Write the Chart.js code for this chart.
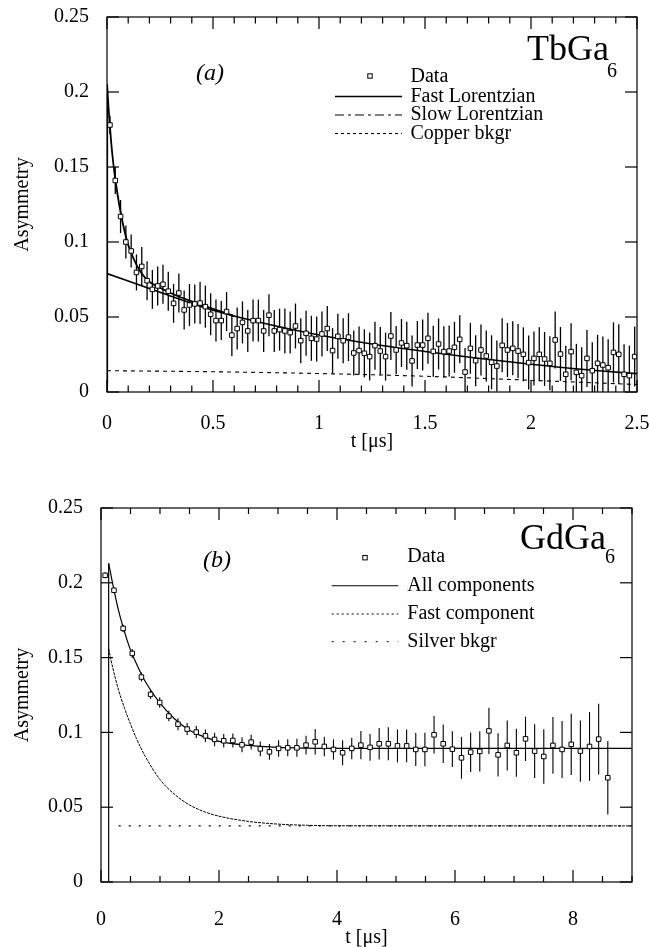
<!DOCTYPE html>
<html><head><meta charset="utf-8">
<script src="https://cdn.jsdelivr.net/npm/chart.js@4.4.0/dist/chart.umd.min.js"></script>
<style>
html,body{margin:0;padding:0;background:#fff;}
#wrap{position:relative;width:649px;height:947px;overflow:hidden;}
.box{position:absolute;left:0;width:649px;}
canvas{display:block;}
</style></head><body>
<div id="wrap">
<div class="box" style="top:0;height:470px"><canvas id="ca" width="649" height="470"></canvas></div>
<div class="box" style="top:470px;height:477px"><canvas id="cb" width="649" height="477"></canvas></div>
</div>
<script>
// ---------- Panel (a) : TbGa6 ----------
const tA = [0.014,0.039,0.064,0.089,0.114,0.139,0.164,0.189,0.214,0.239,
0.264,0.289,0.314,0.339,0.364,0.389,0.414,0.439,0.464,0.489,
0.514,0.539,0.564,0.589,0.614,0.639,0.664,0.689,0.714,0.739,
0.764,0.789,0.814,0.839,0.864,0.889,0.914,0.939,0.964,0.989,
1.014,1.039,1.064,1.089,1.114,1.139,1.164,1.189,1.214,1.239,
1.264,1.289,1.314,1.339,1.364,1.389,1.414,1.439,1.464,1.489,
1.514,1.539,1.564,1.589,1.614,1.639,1.664,1.689,1.714,1.739,
1.764,1.789,1.814,1.839,1.864,1.889,1.914,1.939,1.964,1.989,
2.014,2.039,2.064,2.089,2.114,2.139,2.164,2.189,2.214,2.239,
2.264,2.289,2.314,2.339,2.364,2.389,2.414,2.439,2.464,2.489];
const asymA = [0.178,0.141,0.117,0.100,0.094,0.0797,0.0837,0.0742,0.0684,0.0707,
0.0718,0.0672,0.0591,0.066,0.0547,0.058,0.0587,0.0593,0.0569,0.0518,
0.0476,0.0476,0.0536,0.0379,0.0423,0.0464,0.0407,0.0476,0.0476,0.0407,
0.0512,0.0407,0.0416,0.0407,0.0396,0.044,0.0342,0.0391,0.0358,0.0353,
0.0387,0.0423,0.0276,0.0371,0.0342,0.0366,0.026,0.0276,0.0258,0.0236,
0.0309,0.0273,0.0236,0.0373,0.028,0.0327,0.0309,0.0207,0.0313,0.0313,
0.0358,0.0271,0.032,0.0269,0.0273,0.0298,0.0351,0.0133,0.0291,0.0209,
0.028,0.024,0.0198,0.0173,0.0311,0.028,0.0291,0.0273,0.0251,0.0196,
0.0224,0.0251,0.022,0.0191,0.0347,0.0253,0.0118,0.0269,0.0131,0.0109,
0.0224,0.0142,0.0191,0.018,0.0162,0.0264,0.0251,0.0118,0.0109,0.0236];
const errA = [0.006,0.009,0.011,0.011,0.011,0.012,0.013,0.013,0.013,0.013,
0.013,0.013,0.013,0.013,0.013,0.014,0.013,0.014,0.014,0.014,
0.014,0.013,0.013,0.014,0.014,0.014,0.014,0.014,0.014,0.014,
0.014,0.014,0.014,0.015,0.014,0.015,0.015,0.015,0.015,0.015,
0.015,0.015,0.015,0.015,0.015,0.016,0.015,0.016,0.016,0.016,
0.016,0.016,0.016,0.016,0.016,0.016,0.016,0.017,0.016,0.017,
0.017,0.017,0.017,0.017,0.017,0.017,0.016,0.016,0.017,0.017,
0.017,0.017,0.018,0.017,0.018,0.018,0.018,0.018,0.018,0.018,
0.018,0.018,0.018,0.018,0.019,0.018,0.019,0.019,0.019,0.019,
0.019,0.019,0.019,0.019,0.019,0.02,0.02,0.02,0.02,0.02];
const fastA_t = [0,0.01,0.02,0.03,0.04,0.06,0.08,0.10,0.125,0.15,0.175,0.2,0.25,0.3,0.35,0.4,0.5,0.6];
const fastA_v = [0.205,0.184,0.166,0.152,0.141,0.123,0.109,0.098,0.089,0.082,0.077,0.0735,0.0695,0.066,0.063,0.0605,0.0555,0.0506];
const slowA_t = [0,0.25,0.5,0.75,1,1.25,1.5,1.75,2,2.25,2.5];
const slowA_v = [0.079,0.0665,0.0545,0.0455,0.038,0.032,0.027,0.0225,0.0185,0.015,0.0122];
const copA_t = [0,0.5,1,1.5,2,2.5];
const copA_v = [0.0142,0.0135,0.0123,0.0105,0.0078,0.0050];
const xTicksA = ['0','0.5','1','1.5','2','2.5'];

// ---------- Panel (b) : GdGa6 ----------
const tB = [0.07,0.22,0.375,0.53,0.685,0.84,0.995,1.15,1.305,1.46,
1.615,1.77,1.925,2.08,2.235,2.39,2.545,2.7,2.855,3.01,
3.165,3.32,3.475,3.63,3.785,3.94,4.095,4.25,4.405,4.56,
4.715,4.87,5.025,5.18,5.335,5.49,5.645,5.8,5.955,6.11,
6.265,6.42,6.575,6.73,6.885,7.04,7.195,7.35,7.505,7.66,
7.815,7.97,8.125,8.28,8.435,8.59];
const asymB = [0.205,0.195,0.1695,0.1528,0.137,0.1254,0.120,0.1109,0.1055,0.1022,
0.1002,0.0977,0.0953,0.0944,0.0946,0.0917,0.0935,0.089,0.087,0.0893,
0.0897,0.0897,0.0915,0.0937,0.0906,0.0886,0.0864,0.0893,0.0915,0.0900,
0.0924,0.0924,0.091,0.091,0.0886,0.0886,0.0984,0.0924,0.0888,0.083,
0.0868,0.0873,0.101,0.085,0.0913,0.0864,0.0957,0.0875,0.0839,0.0913,
0.0886,0.092,0.0875,0.0906,0.0955,0.0697];
const errB = [0.002,0.002,0.0025,0.003,0.003,0.003,0.0035,0.0035,0.004,0.004,
0.004,0.0042,0.0045,0.0045,0.0047,0.005,0.005,0.005,0.0052,0.0055,
0.0057,0.006,0.0062,0.0085,0.0065,0.0068,0.0084,0.0072,0.0095,0.009,
0.0105,0.011,0.011,0.011,0.011,0.0112,0.0125,0.0128,0.012,0.014,
0.0132,0.0135,0.0155,0.0145,0.0167,0.016,0.0148,0.018,0.0182,0.019,
0.019,0.0205,0.0205,0.023,0.0237,0.0245];
const allB_t = [0.13,0.2,0.3,0.4,0.5,0.6,0.75,1,1.25,1.5,1.75,2,2.5,3,3.5,4,9];
const allB_v = [0.213,0.199,0.181,0.167,0.155,0.146,0.134,0.1195,0.109,0.1015,0.097,0.094,0.0913,0.09,0.0895,0.0893,0.0893];
const fastB_t = [0.13,0.2,0.3,0.4,0.5,0.6,0.75,1,1.25,1.5,1.75,2,2.5,3,3.5,4,9];
const fastB_v = [0.156,0.143,0.128,0.116,0.1055,0.096,0.084,0.0685,0.0585,0.0515,0.047,0.044,0.0405,0.0387,0.0379,0.0376,0.0375];
const silB_t = [0.3,9];
const silB_v = [0.0375,0.0375];
const xTicksB = ['0','2','4','6','8'];
const yTicks = ['0','0.05','0.1','0.15','0.2','0.25'];

// ---------- helpers ----------
const SERIF = "'Liberation Serif','Times New Roman',serif";
const pts = (t, v) => t.map((x, i) => ({x: x, y: v[i]}));
const fmt = v => String(Math.round(v * 100) / 100);

function makePlugin(cfg) {
  function seg(ctx, x1, y1, x2, y2) { ctx.beginPath(); ctx.moveTo(x1, y1); ctx.lineTo(x2, y2); ctx.stroke(); }
  return {
    id: 'decor',
    beforeDatasetsDraw(chart) {
      const {ctx, chartArea: a, scales: {x, y}} = chart;
      ctx.save();
      ctx.beginPath(); ctx.rect(a.left, a.top, a.right - a.left, a.bottom - a.top); ctx.clip();
      ctx.strokeStyle = '#000'; ctx.lineWidth = cfg.errWidth;
      cfg.errT.forEach((t, i) => {
        const px = x.getPixelForValue(t);
        seg(ctx, px, y.getPixelForValue(cfg.errV[i] - cfg.errE[i]), px, y.getPixelForValue(cfg.errV[i] + cfg.errE[i]));
      });
      ctx.restore();
    },
    afterDraw(chart) {
      const {ctx, chartArea: a, scales: {x, y}} = chart;
      ctx.save();
      ctx.strokeStyle = '#000'; ctx.lineWidth = 1.2; ctx.setLineDash([]);
      ctx.strokeRect(a.left, a.top, a.right - a.left, a.bottom - a.top);
      // x ticks (inward, top & bottom)
      const nx = Math.round((x.max - x.min) / cfg.xMinor);
      for (let k = 0; k <= nx; k++) {
        const v = x.min + k * cfg.xMinor;
        const major = Math.abs(v / cfg.xMajor - Math.round(v / cfg.xMajor)) < 1e-6;
        const L = major ? cfg.majLen : cfg.minLen;
        const px = x.getPixelForValue(v);
        seg(ctx, px, a.bottom, px, a.bottom - L);
        seg(ctx, px, a.top, px, a.top + L);
      }
      const ny = Math.round((y.max - y.min) / cfg.yMajor);
      for (let k = 0; k <= ny; k++) {
        const py = y.getPixelForValue(y.min + k * cfg.yMajor);
        seg(ctx, a.left, py, a.left + cfg.majLen, py);
        seg(ctx, a.right, py, a.right - cfg.majLen, py);
      }
      // sample name + panel letter
      ctx.fillStyle = '#000';
      ctx.textBaseline = 'alphabetic'; ctx.textAlign = 'left';
      ctx.font = '36px ' + SERIF;
      ctx.fillText(cfg.name[0], cfg.nameX, cfg.nameY);
      ctx.font = '20px ' + SERIF;
      ctx.fillText(cfg.name[1], cfg.subX, cfg.subY);
      ctx.font = 'italic 24px ' + SERIF;
      ctx.fillText(cfg.panel, cfg.panelX, cfg.panelY);
      // legend
      ctx.font = '20px ' + SERIF;
      cfg.legend.forEach(it => {
        const ds = chart.data.datasets[it.ds];
        if (it.marker) {
          ctx.setLineDash([]); ctx.lineWidth = 1; ctx.fillStyle = '#fff';
          ctx.fillRect(it.mx - 2.2, it.ly - 2.2, 4.4, 4.4);
          ctx.strokeRect(it.mx - 2.2, it.ly - 2.2, 4.4, 4.4);
        } else {
          ctx.setLineDash(it.dash); ctx.lineWidth = it.w;
          seg(ctx, cfg.lx1, it.ly, cfg.lx2, it.ly);
        }
        ctx.setLineDash([]); ctx.fillStyle = '#000';
        ctx.fillText(ds.label, cfg.tx, it.ly + it.dy);
      });
      ctx.restore();
    }
  };
}

function scaleCfg(min, max, step, labels, padding, title, isX, fitSize, titlePad) {
  return {
    type: 'linear', min: min, max: max,
    ticks: {stepSize: step, padding: padding, color: '#000', font: {family: SERIF, size: 20},
            includeBounds: false, autoSkip: false, maxRotation: 0,
            callback: v => labels.includes(fmt(v)) ? fmt(v) : null},
    grid: {display: false, drawTicks: false},
    border: {display: false},
    title: {display: true, text: title, color: '#000', font: {family: SERIF, size: 20}, padding: titlePad},
    afterFit: s => {
      if (isX) { s.height = fitSize; s.paddingLeft = 0; s.paddingRight = 0; }
      else { s.width = fitSize; s.paddingTop = 0; s.paddingBottom = 0; }
    }
  };
}

const lineDs = (label, t, v, w, dash) => ({label: label, data: pts(t, v), showLine: true, borderColor: '#000',
  borderWidth: w, borderDash: dash, pointRadius: 0, pointHoverRadius: 0, fill: false, cubicInterpolationMode: 'monotone'});
const dataDs = (t, v) => ({label: 'Data', data: pts(t, v), showLine: false, pointStyle: 'rect', pointRadius: 3.2,
  pointHoverRadius: 3.2, pointBorderWidth: 1, borderColor: '#000', pointBorderColor: '#000', backgroundColor: '#fff', pointBackgroundColor: '#fff'});

// ---------- Chart (a) ----------
new Chart(document.getElementById('ca'), {
  type: 'scatter',
  data: {datasets: [
    dataDs(tA, asymA),
    lineDs('Fast Lorentzian', fastA_t, fastA_v, 1.8, []),
    lineDs('', [0, 0.0001], [0, fastA_v[0]], 2.2, []),
    lineDs('Slow Lorentzian', slowA_t, slowA_v, 1.7, []),
    lineDs('Copper bkgr', copA_t, copA_v, 1.1, [4, 4])
  ]},
  options: {
    responsive: false, animation: false, devicePixelRatio: 1,
    layout: {padding: {left: 0, top: 17, right: 12, bottom: 0}},
    plugins: {legend: {display: false}, tooltip: {enabled: false}},
    scales: {
      x: scaleCfg(0, 2.5, 0.5, xTicksA, 20, 't [μs]', true, 78, {top: 0, bottom: 16}),
      y: scaleCfg(0, 0.25, 0.05, yTicks, 18, 'Asymmetry', false, 107, {top: 11, bottom: 0})
    }
  },
  plugins: [makePlugin({
    errT: tA, errV: asymA, errE: errA, errWidth: 1.3,
    xMajor: 0.5, xMinor: 0.1, yMajor: 0.05, majLen: 12, minLen: 6.5,
    name: ['TbGa', '6'], nameX: 527, nameY: 60, subX: 607, subY: 77,
    panel: '(a)', panelX: 196, panelY: 79.5,
    lx1: 335, lx2: 402, tx: 410.5,
    legend: [
      {ds: 0, marker: true, mx: 370, ly: 76, dy: 6},
      {ds: 1, dash: [], w: 1.5, ly: 96.5, dy: 5},
      {ds: 3, dash: [9, 4, 3, 4], w: 1.2, ly: 115, dy: 5},
      {ds: 4, dash: [3, 3], w: 1.1, ly: 133.5, dy: 5}
    ]
  })]
});

// ---------- Chart (b) ----------
new Chart(document.getElementById('cb'), {
  type: 'scatter',
  data: {datasets: [
    dataDs(tB, asymB),
    lineDs('All components', allB_t, allB_v, 1.2, []),
    lineDs('', [0.13, 0.1301], [0, allB_v[0]], 1.2, []),
    lineDs('Fast component', fastB_t, fastB_v, 1, [3, 1]),
    lineDs('Silver bkgr', silB_t, silB_v, 1.1, [2, 8])
  ]},
  options: {
    responsive: false, animation: false, devicePixelRatio: 1,
    layout: {padding: {left: 0, top: 38, right: 17, bottom: 0}},
    plugins: {legend: {display: false}, tooltip: {enabled: false}},
    scales: {
      x: scaleCfg(0, 9, 2, xTicksB, 26, 't [μs]', true, 65, {top: 0, bottom: -3}),
      y: scaleCfg(0, 0.25, 0.05, yTicks, 18, 'Asymmetry', false, 101, {top: 11, bottom: 0})
    }
  },
  plugins: [makePlugin({
    errT: tB, errV: asymB, errE: errB, errWidth: 1.1,
    xMajor: 2, xMinor: 0.5, yMajor: 0.05, majLen: 12, minLen: 6,
    name: ['GdGa', '6'], nameX: 520, nameY: 79.3, subX: 605, subY: 93.3,
    panel: '(b)', panelX: 203, panelY: 97,
    lx1: 331.7, lx2: 398.3, tx: 407.3,
    legend: [
      {ds: 0, marker: true, mx: 365, ly: 87.7, dy: 4},
      {ds: 1, dash: [], w: 1.1, ly: 115.7, dy: 5},
      {ds: 3, dash: [2, 3], w: 1, ly: 144, dy: 5},
      {ds: 4, dash: [2, 9], w: 1, ly: 171.7, dy: 5}
    ]
  })]
});
</script>
</body></html>
